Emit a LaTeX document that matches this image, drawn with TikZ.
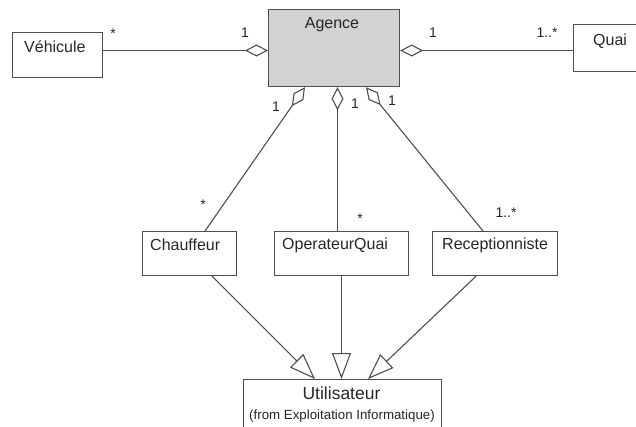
\documentclass[tikz,border=0pt]{standalone}
\usepackage{fontspec}
\setmainfont{Liberation Sans}
\usetikzlibrary{arrows.meta,calc}

\definecolor{edge}{HTML}{4E4E4E}
\definecolor{ink}{HTML}{262626}
\definecolor{agencefill}{HTML}{D2D2D2}

\tikzset{
  classbox/.style={draw=edge, line width=1.2pt, fill=white, inner sep=0pt, anchor=north west},
  classname/.style={text=ink, font=\fontsize{16}{18}\selectfont, inner sep=0pt},
  mult/.style={text=ink, font=\fontsize{14}{16}\selectfont, inner sep=0pt},
  assoc/.style={draw=edge, line width=1.1pt, {Diamond[open, length=23pt, width=12pt, line width=1.1pt]}-},
  inherit/.style={draw=edge, line width=1.1pt, -{Triangle[open, length=26pt, width=19pt, line width=1.1pt]}}
}

\begin{document}
\begin{tikzpicture}[x=1pt, y=-1pt]
  \useasboundingbox (0,0) rectangle (636,426);

  % class boxes
  \node[classbox, minimum width=90pt, minimum height=45pt] (vehicule) at (12,32) {};
  \node[classbox, fill=agencefill, minimum width=131pt, minimum height=77pt] (agence) at (268,9) {};
  \node[classbox, minimum width=80pt, minimum height=47pt] (quai) at (573,24) {};
  \node[classbox, minimum width=94pt, minimum height=44pt] (chauffeur) at (142,231) {};
  \node[classbox, minimum width=134pt, minimum height=44pt] (operateur) at (274,231) {};
  \node[classbox, minimum width=125pt, minimum height=44pt] (reception) at (432,231) {};
  \node[classbox, minimum width=198pt, minimum height=60pt] (utilisateur) at (243,379) {};

  % class names
  \node[classname, anchor=west] (tveh) at (24,47) {Véhicule};
  \node[classname] (tag) at (332,25) {Agence};
  \node[classname, anchor=west] (tquai) at (593,41) {Quai};
  \node[classname, anchor=west] (tch) at (150,245) {Chauffeur};
  \node[classname, anchor=west] (top) at (282,245) {OperateurQuai};
  \node[classname, anchor=west] (trec) at (442,245) {Receptionniste};
  \node[classname, font=\fontsize{17.5}{19}\selectfont] (tut) at (341.5,393) {Utilisateur};
  \node[text=ink, font=\fontsize{13.3}{15}\selectfont, inner sep=0pt] (tfrom) at (342,416) {(from Exploitation Informatique)};

  % aggregations (diamond at Agence)
  \draw[assoc] (agence.west |- 0,50.5) -- (vehicule.east |- 0,50.5);
  \draw[assoc] (agence.east |- 0,50.5) -- (quai.west |- 0,50.5);
  \draw[assoc] ($(agence.south west)+(37,0)$) -- ($(chauffeur.north west)+(63,0)$);
  \draw[assoc] ($(agence.south west)+(69.5,0)$) -- ($(operateur.north west)+(63.5,0)$);
  \draw[assoc] ($(agence.south west)+(98,0)$) -- ($(reception.north west)+(51,0)$);

  % generalizations to Utilisateur
  \draw[inherit] ($(chauffeur.south west)+(70,0)$) -- ($(utilisateur.north west)+(72,0)$);
  \draw[inherit] ($(operateur.south west)+(67.5,0)$) -- ($(utilisateur.north west)+(98.5,0)$);
  \draw[inherit] ($(reception.south west)+(44,0)$) -- ($(utilisateur.north west)+(125,0)$);

  % multiplicities
  \node[mult] (m1) at (113,34) {*};
  \node[mult] (m2) at (245,33) {1};
  \node[mult] (m3) at (433,33) {1};
  \node[mult] (m4) at (547,33) {1..*};
  \node[mult] (m5) at (276,107) {1};
  \node[mult] (m6) at (355,104) {1};
  \node[mult] (m7) at (392,101) {1};
  \node[mult] (m8) at (203,205) {*};
  \node[mult] (m9) at (360,219) {*};
  \node[mult] (m10) at (506,213) {1..*};
\end{tikzpicture}
\end{document}
